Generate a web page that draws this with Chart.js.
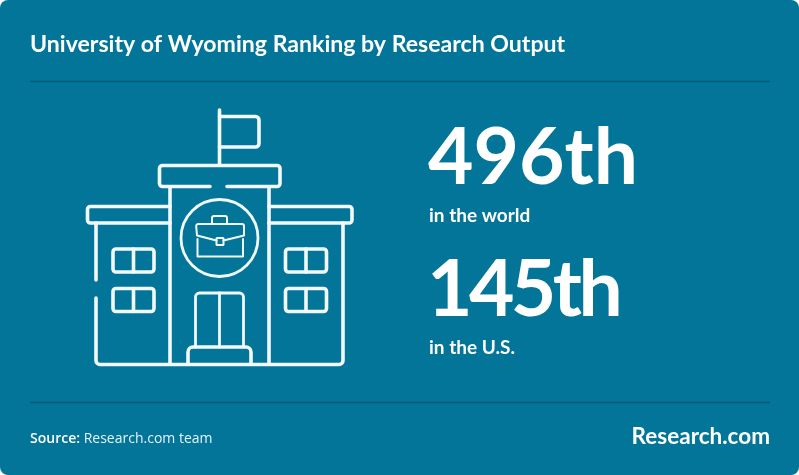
<!DOCTYPE html>
<html>
<head>
<meta charset="utf-8">
<title>University of Wyoming Ranking by Research Output</title>
<script src="https://cdn.jsdelivr.net/npm/chart.js@4"></script>
<style>
  html, body { margin: 0; padding: 0; background: #fff; }
  canvas { display: block; }
</style>
</head>
<body>
<canvas id="rankChart" width="799" height="475"></canvas>
<script>
const chartTitle = 'University of Wyoming Ranking by Research Output';
const regions = ['in the world', 'in the U.S.'];
const ranks = [496, 145];
const rankSuffix = 'th';
const sourceLabel = 'Source:';
const sourceName = 'Research.com team';
const brandName = 'Research.com';

const PANEL = '#027599';
const RULE = '#025a78';
const INK = '#ffffff';
const ICON = '#f2fafd';

function roundBox(ctx, x, y, w, h, r) {
  ctx.beginPath();
  ctx.roundRect(x, y, w, h, r);
  ctx.stroke();
}

function line(ctx, pts) {
  ctx.beginPath();
  pts.forEach((p, i) => i ? ctx.lineTo(p[0], p[1]) : ctx.moveTo(p[0], p[1]));
  ctx.stroke();
}

function drawWindow(ctx, x, y) {
  roundBox(ctx, x, y, 41, 23, 3);
  line(ctx, [[x + 20.5, y], [x + 20.5, y + 23]]);
}

// school building pictogram
function drawBuilding(ctx) {
  ctx.save();
  ctx.strokeStyle = ICON;
  ctx.lineWidth = 3.6;
  ctx.lineCap = 'round';
  ctx.lineJoin = 'round';

  // flag
  line(ctx, [[219.5, 110], [219.5, 165]]);
  ctx.beginPath();
  ctx.moveTo(219.5, 116.5);
  ctx.arcTo(259, 116.5, 259, 147, 3.5);
  ctx.arcTo(259, 147, 219.5, 147, 3.5);
  ctx.lineTo(219.5, 147);
  ctx.stroke();

  // top cornice with gap in the lower edge
  ctx.beginPath();
  ctx.moveTo(210, 186.5);
  ctx.arcTo(159.5, 186.5, 159.5, 165.5, 3);
  ctx.arcTo(159.5, 165.5, 280, 165.5, 3);
  ctx.arcTo(280, 165.5, 280, 186.5, 3);
  ctx.arcTo(280, 186.5, 227, 186.5, 3);
  ctx.lineTo(227, 186.5);
  ctx.stroke();

  // centre walls
  line(ctx, [[170, 187], [170, 364]]);
  line(ctx, [[269, 187], [269, 364]]);

  // side cornices
  ctx.beginPath();
  ctx.moveTo(170, 206.5);
  ctx.arcTo(87.5, 206.5, 87.5, 223, 3);
  ctx.arcTo(87.5, 223, 170, 223, 3);
  ctx.lineTo(170, 223);
  ctx.stroke();
  ctx.beginPath();
  ctx.moveTo(269, 206.5);
  ctx.arcTo(352, 206.5, 352, 223, 3);
  ctx.arcTo(352, 223, 269, 223, 3);
  ctx.lineTo(269, 223);
  ctx.stroke();

  // outer walls and ground line
  line(ctx, [[96, 223], [96, 280]]);
  ctx.beginPath();
  ctx.moveTo(96, 298);
  ctx.arcTo(96, 364.5, 343, 364.5, 4);
  ctx.arcTo(343, 364.5, 343, 223, 4);
  ctx.lineTo(343, 223);
  ctx.stroke();

  // windows
  drawWindow(ctx, 113, 249);
  drawWindow(ctx, 113, 288.5);
  drawWindow(ctx, 285.5, 249);
  drawWindow(ctx, 285.5, 288.5);

  // step
  ctx.beginPath();
  ctx.moveTo(188, 364);
  ctx.lineTo(188, 352);
  ctx.arcTo(188, 347, 251, 347, 5);
  ctx.arcTo(251, 347, 251, 364, 5);
  ctx.lineTo(251, 364);
  ctx.stroke();

  // door
  ctx.lineWidth = 2.8;
  ctx.beginPath();
  ctx.moveTo(195.5, 347);
  ctx.lineTo(195.5, 297);
  ctx.arcTo(195.5, 293, 243.5, 293, 4);
  ctx.arcTo(243.5, 293, 243.5, 347, 4);
  ctx.lineTo(243.5, 347);
  ctx.stroke();
  line(ctx, [[219.5, 293], [219.5, 347]]);

  // circle with briefcase
  ctx.beginPath();
  ctx.arc(219.5, 238, 38.5, 0, Math.PI * 2);
  ctx.stroke();

  ctx.lineWidth = 2;
  ctx.beginPath();
  ctx.moveTo(212, 223.5);
  ctx.lineTo(212, 218);
  ctx.arcTo(212, 216, 227, 216, 2);
  ctx.arcTo(227, 216, 227, 223.5, 2);
  ctx.lineTo(227, 223.5);
  ctx.stroke();
  ctx.beginPath();
  ctx.moveTo(216.5, 240.5);
  ctx.lineTo(197, 235.5);
  ctx.arcTo(196, 224, 244, 224, 2);
  ctx.arcTo(244, 224, 244, 235.5, 2);
  ctx.lineTo(244, 235.5);
  ctx.lineTo(223.5, 240.5);
  ctx.stroke();
  roundBox(ctx, 216.5, 238, 7, 7, 0.5);
  line(ctx, [[197.5, 239], [197.5, 256.5], [243, 256.5], [243, 239]]);
  ctx.restore();
}

const panelPlugin = {
  id: 'panel',
  beforeDraw(chart) {
    const ctx = chart.ctx;
    ctx.save();
    ctx.fillStyle = PANEL;
    ctx.beginPath();
    ctx.roundRect(0, 0, 799, 475, 8);
    ctx.fill();
    ctx.strokeStyle = RULE;
    ctx.lineWidth = 1.5;
    line(ctx, [[30, 81.5], [770, 81.5]]);
    line(ctx, [[30, 402.5], [770, 402.5]]);
    ctx.restore();
    drawBuilding(ctx);
  }
};

// big rank and its caption, placed on the y scale band of each region
const rankLabelPlugin = {
  id: 'rankLabels',
  afterDatasetsDraw(chart) {
    const ctx = chart.ctx;
    const yScale = chart.scales.y;
    ctx.save();
    ctx.fillStyle = INK;
    ctx.textAlign = 'left';
    ctx.textBaseline = 'alphabetic';
    regions.forEach((region, i) => {
      const y = yScale.getPixelForValue(region);
      ctx.font = '700 78.5px Lato';
      // the Lato 1 is wider than the reference face, so the second rank is tightened
      ctx.letterSpacing = i ? '-3.6px' : '0px';
      ctx.fillText(ranks[i] + rankSuffix, i ? 427 : 428, y);
      ctx.letterSpacing = '0px';
      ctx.font = '700 19px Lato';
      ctx.fillText(region, 429, y + 38);
    });

    // footer
    ctx.fillStyle = '#ffffff';
    ctx.font = '600 14px "Open Sans"';
    ctx.fillText(sourceLabel, 30, 443);
    const w = ctx.measureText(sourceLabel + ' ').width;
    ctx.fillStyle = '#e6f3f8';
    ctx.font = '400 14px "Open Sans"';
    ctx.fillText(sourceName, 30 + w, 443);
    ctx.fillStyle = INK;
    ctx.font = '700 22.5px Lato';
    ctx.textAlign = 'right';
    ctx.fillText(brandName, 770, 444);
    ctx.restore();
  }
};

new Chart(document.getElementById('rankChart'), {
  type: 'line',
  data: {
    labels: regions,
    datasets: [{
      label: 'Rank',
      data: regions.map((r, i) => ({ x: ranks[i], y: r })),
      showLine: false,
      pointRadius: 0
    }]
  },
  options: {
    responsive: false,
    animation: false,
    layout: { padding: { left: 30, right: 29, top: 31, bottom: 93 } },
    scales: {
      x: { type: 'linear', display: false, min: 0, max: 600 },
      y: { type: 'category', display: false, offset: true, labels: regions }
    },
    plugins: {
      legend: { display: false },
      tooltip: { enabled: false },
      title: {
        display: true,
        text: chartTitle,
        align: 'start',
        color: INK,
        font: { family: 'Lato', size: 23.1, weight: '700', lineHeight: 1.2 },
        padding: { top: 0, bottom: 59.3 }
      }
    }
  },
  plugins: [panelPlugin, rankLabelPlugin]
});
</script>
</body>
</html>
